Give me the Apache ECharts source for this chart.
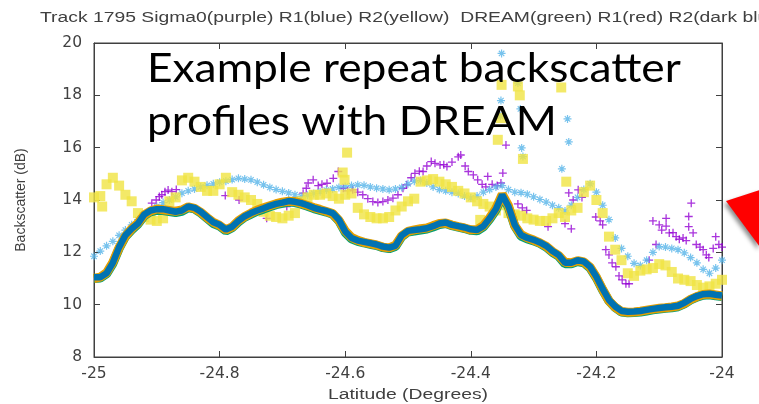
<!DOCTYPE html>
<html>
<head>
<meta charset="utf-8">
<script src="https://cdn.jsdelivr.net/npm/echarts@6/dist/echarts.min.js"></script>
<style>html,body{margin:0;padding:0;background:#fff;}#c{width:759px;height:404px;}</style>
</head>
<body>
<div id="c"></div>
<script>
const titleText = 'Track 1795 Sigma0(purple) R1(blue) R2(yellow)  DREAM(green) R1(red) R2(dark blue)';
const xAxisName = 'Latitude (Degrees)';
const yAxisName = 'Backscatter (dB)';
const overlayLines = ['Example repeat backscatter', 'profiles with DREAM'];
const xTicks = [-25, -24.8, -24.6, -24.4, -24.2, -24];
const yTicks = [8, 10, 12, 14, 16, 18, 20];

const latGrid = [-25,-24.99,-24.98,-24.97,-24.96,-24.95,-24.94,-24.93,-24.92,-24.91,
-24.9,-24.89,-24.88,-24.87,-24.86,-24.85,-24.84,-24.83,-24.82,-24.81,
-24.8,-24.79,-24.78,-24.77,-24.76,-24.75,-24.74,-24.73,-24.72,-24.71,
-24.7,-24.69,-24.68,-24.67,-24.66,-24.65,-24.64,-24.63,-24.62,-24.61,
-24.6,-24.59,-24.58,-24.57,-24.56,-24.55,-24.54,-24.53,-24.52,-24.51,
-24.5,-24.49,-24.48,-24.47,-24.46,-24.45,-24.44,-24.43,-24.42,-24.41,
-24.4,-24.39,-24.38,-24.37,-24.36,-24.35,-24.34,-24.33,-24.32,-24.31,
-24.3,-24.29,-24.28,-24.27,-24.26,-24.25,-24.24,-24.23,-24.22,-24.21,
-24.2,-24.19,-24.18,-24.17,-24.16,-24.15,-24.14,-24.13,-24.12,-24.11,
-24.1,-24.09,-24.08,-24.07,-24.06,-24.05,-24.04,-24.03,-24.02,-24.01,
-24];

const purpleLat = [-24.908,-24.901,-24.896,-24.892,-24.887,-24.882,-24.876,-24.869,-24.791,-24.769,
-24.725,-24.693,-24.667,-24.662,-24.659,-24.651,-24.643,-24.637,-24.629,-24.619,
-24.611,-24.603,-24.596,-24.588,-24.580,-24.572,-24.564,-24.556,-24.548,-24.540,
-24.532,-24.524,-24.516,-24.508,-24.502,-24.495,-24.489,-24.482,-24.476,-24.470,
-24.463,-24.457,-24.449,-24.443,-24.438,-24.430,-24.420,-24.416,-24.409,-24.404,
-24.396,-24.389,-24.382,-24.376,-24.373,-24.366,-24.358,-24.352,-24.349,-24.344,
-24.325,-24.318,-24.311,-24.277,-24.250,-24.244,-24.240,-24.237,-24.229,-24.223,
-24.201,-24.194,-24.190,-24.185,-24.180,-24.175,-24.169,-24.164,-24.159,-24.153,
-24.148,-24.116,-24.110,-24.105,-24.100,-24.096,-24.089,-24.089,-24.084,-24.078,
-24.073,-24.068,-24.062,-24.057,-24.053,-24.053,-24.049,-24.046,-24.041,-24.035,
-24.030,-24.025,-24.021,-24.014,-24.010,-24.005,-24.000];
const purpleVal = [13.88,14.0,14.13,14.2,14.32,14.38,14.32,14.4,14.17,14.0,
13.3,13.75,14.26,14.45,14.65,14.77,14.55,14.6,14.64,14.83,
15.09,14.45,14.35,14.39,14.3,14.2,14.05,13.94,13.9,13.94,
14.0,14.07,14.2,14.45,14.58,14.85,15.02,15.1,15.09,15.3,
15.47,15.4,15.34,15.35,15.28,15.45,15.65,15.72,15.3,15.09,
14.96,14.77,14.6,14.5,14.9,14.6,14.55,14.65,15.03,16.1,
13.85,13.7,13.6,12.98,13.1,14.27,12.9,14.0,14.39,14.1,
13.35,13.2,13.05,12.1,11.9,11.6,11.45,11.1,10.95,10.8,
10.8,11.7,13.2,12.3,13.05,12.85,13.3,13.0,12.74,12.75,
12.6,12.5,12.55,12.45,13.37,12.98,13.88,12.74,12.3,12.2,
12.1,11.9,11.8,12.15,12.6,12.3,12.2];

const blueR1 = [11.85,12.05,12.25,12.42,12.65,12.85,13.05,13.25,13.42,13.6,
13.75,13.9,14.0,14.12,14.26,14.35,14.42,14.5,14.56,14.62,
14.68,14.72,14.78,14.83,14.8,14.77,14.68,14.58,14.48,14.4,
14.33,14.27,14.2,14.14,14.18,14.25,14.32,14.38,14.42,14.48,
14.52,14.55,14.58,14.56,14.5,14.45,14.42,14.39,14.42,14.48,
14.62,14.72,14.75,14.65,14.5,14.4,14.35,14.3,14.25,14.15,
14.08,14.15,14.3,14.4,14.5,14.55,14.4,14.3,14.28,14.22,
14.12,14.02,13.92,13.8,13.7,13.58,13.8,14.1,14.4,14.62,
14.3,13.8,13.25,12.55,12.15,11.85,11.58,11.5,11.7,12.0,
12.22,12.2,12.15,12.1,11.98,11.8,11.6,11.35,11.2,11.4,
11.7];
const blueExtraLat = [-24.351,-24.325,-24.352,-24.321,-24.353,-24.246,-24.244,-24.319,-24.317,-24.255];
const blueExtraVal = [19.6,18.47,17.8,17.48,17.2,17.1,16.22,15.99,15.66,15.19];

const yellowR2 = [14.1,14.15,14.6,14.85,14.55,14.2,13.95,13.5,13.35,13.25,
13.2,13.3,13.95,14.1,14.75,14.85,14.7,14.5,14.35,14.35,
14.6,14.85,14.3,14.2,14.1,14.0,13.85,13.55,13.4,13.35,
13.3,13.4,13.5,13.95,14.1,14.2,14.2,14.25,14.15,14.05,
14.2,14.25,13.7,13.45,13.35,13.3,13.3,13.35,13.6,13.75,
13.95,14.05,14.7,14.75,14.8,14.7,14.6,14.5,14.35,14.25,
14.1,13.95,13.85,13.75,13.6,13.8,13.5,13.45,13.4,13.3,
13.25,13.2,13.2,13.3,13.5,13.35,13.6,13.7,14.3,14.55,
14.0,13.5,12.6,12.1,11.7,11.2,11.1,11.3,11.35,11.4,
11.55,11.5,11.25,11.0,10.95,10.9,10.75,10.65,10.7,10.8,
10.95];
const yellowExtraLat = [-24.351,-24.325,-24.322,-24.256,-24.352,-24.357,-24.317,-24.597,-24.604,-24.601,-24.987,-24.385,-24.248];
const yellowExtraVal = [18.4,18.34,18.0,18.3,17.13,16.3,15.57,15.81,15.05,14.77,13.75,13.24,14.7];

const dreamGreen = [11.0,11.02,11.18,11.57,12.15,12.6,12.86,13.08,13.4,13.55,
13.6,13.6,13.56,13.52,13.57,13.7,13.66,13.5,13.3,13.1,
13.0,12.82,12.94,13.16,13.34,13.46,13.57,13.65,13.74,13.82,
13.87,13.92,13.9,13.84,13.76,13.67,13.6,13.54,13.46,13.2,
12.76,12.52,12.42,12.36,12.31,12.26,12.18,12.14,12.22,12.6,
12.78,12.81,12.85,12.89,12.97,13.06,13.1,13.02,12.96,12.91,
12.84,12.82,12.97,13.27,13.62,14.15,13.72,13.0,12.62,12.51,
12.44,12.34,12.2,12.0,11.85,11.56,11.56,11.65,11.6,11.4,
11.02,10.55,10.14,9.89,9.72,9.69,9.7,9.72,9.76,9.8,
9.83,9.86,9.88,9.92,10.03,10.18,10.29,10.36,10.38,10.34,
10.31];
const dreamR1 = [11.0,11.05,11.22,11.62,12.18,12.62,12.9,13.12,13.43,13.58,
13.66,13.63,13.6,13.57,13.62,13.74,13.68,13.53,13.33,13.15,
13.03,12.86,12.97,13.21,13.37,13.5,13.62,13.7,13.78,13.86,
13.92,13.95,13.94,13.87,13.79,13.71,13.64,13.56,13.48,13.22,
12.82,12.57,12.46,12.38,12.33,12.28,12.2,12.17,12.27,12.63,
12.8,12.86,12.9,12.93,13.02,13.1,13.12,13.04,12.98,12.93,
12.86,12.87,13.02,13.32,13.68,14.22,13.78,13.02,12.68,12.56,
12.47,12.36,12.23,12.03,11.88,11.62,11.6,11.68,11.63,11.43,
11.05,10.58,10.15,9.9,9.74,9.71,9.72,9.75,9.79,9.83,
9.86,9.88,9.91,9.95,10.05,10.2,10.31,10.39,10.41,10.37,
10.33];
const dreamR2 = [11.05,11.05,11.2,11.6,12.2,12.65,12.9,13.1,13.45,13.6,
13.65,13.65,13.6,13.55,13.6,13.75,13.7,13.55,13.35,13.15,
13.05,12.87,12.98,13.2,13.38,13.5,13.6,13.68,13.78,13.85,
13.9,13.96,13.93,13.88,13.8,13.7,13.63,13.58,13.5,13.25,
12.8,12.55,12.45,12.4,12.35,12.3,12.22,12.18,12.25,12.65,
12.82,12.85,12.88,12.92,13.0,13.1,13.14,13.05,13.0,12.95,
12.88,12.85,13.0,13.3,13.65,14.2,13.75,13.05,12.66,12.55,
12.48,12.38,12.25,12.05,11.9,11.6,11.6,11.7,11.65,11.45,
11.07,10.6,10.18,9.93,9.76,9.73,9.74,9.76,9.8,9.84,
9.87,9.9,9.92,9.96,10.07,10.22,10.33,10.4,10.42,10.38,
10.35];

function pairs(xs, ys) { return xs.map((x, i) => [x, ys[i]]); }

const FONT = 'Liberation Sans';
const TICKFONT = 'DejaVu Sans';
const TXT = '#404040';
const STRETCH = 1.38;
const PLUS = 'path://M0,5L10,5M5,0L5,10';
const STAR = 'path://M0,5L10,5M5,0L5,10M1.6,1.6L8.4,8.4M1.6,8.4L8.4,1.6';
const GRID = {left: 94, right: 37, top: 43, bottom: 47};
const W = 759, H = 404;

const chart = echarts.init(document.getElementById('c'), null, {renderer: 'canvas'});
const axisCommon = {
  type: 'value',
  axisLine: {show: true, onZero: false, lineStyle: {color: TXT, width: 1}},
  axisTick: {show: true, inside: true, length: 6, lineStyle: {color: TXT}},
  splitLine: {show: false}
};
const plotCenterX = GRID.left + (W - GRID.left - GRID.right) / 2;
chart.setOption({
  animation: false,
  backgroundColor: '#fff',
  grid: {left: GRID.left, right: GRID.right, top: GRID.top, bottom: GRID.bottom, show: true,
    borderColor: TXT, borderWidth: 1, backgroundColor: 'transparent'},
  xAxis: [
    Object.assign({}, axisCommon, {
      min: xTicks[0], max: xTicks[xTicks.length - 1], interval: 0.2, position: 'bottom',
      axisLabel: {fontFamily: TICKFONT, fontSize: 15.5, color: TXT, margin: 9,
        formatter: v => String(Math.round(v * 10) / 10)}
    }),
    Object.assign({}, axisCommon, {
      min: xTicks[0], max: xTicks[xTicks.length - 1], interval: 0.2, position: 'top',
      axisLabel: {show: false}
    })
  ],
  yAxis: [
    Object.assign({}, axisCommon, {
      min: yTicks[0], max: yTicks[yTicks.length - 1], interval: 2, position: 'left',
      axisLabel: {fontFamily: TICKFONT, fontSize: 15.5, color: TXT, margin: 12},
      name: yAxisName, nameLocation: 'middle', nameGap: 66, nameRotate: 90,
      nameTextStyle: {fontFamily: FONT, fontSize: 14, color: TXT}
    }),
    Object.assign({}, axisCommon, {
      min: yTicks[0], max: yTicks[yTicks.length - 1], interval: 2, position: 'right',
      axisLabel: {show: false}
    })
  ],
  graphic: [
    {type: 'text', x: 40, y: 18, scaleX: STRETCH, z: 100,
      style: {text: titleText, fontFamily: FONT, fontSize: 14, fill: TXT, align: 'left', verticalAlign: 'middle'}},
    {type: 'text', x: plotCenterX, y: 395, scaleX: STRETCH, z: 100,
      style: {text: xAxisName, fontFamily: FONT, fontSize: 14, fill: TXT, align: 'center', verticalAlign: 'middle'}},
    {type: 'text', x: 147, y: 48, scaleX: 1.08, z: 100,
      style: {text: overlayLines[0], fontFamily: 'Lato', fontSize: 41, fill: '#000', verticalAlign: 'top'}},
    {type: 'text', x: 147, y: 101, scaleX: 1.08, z: 100,
      style: {text: overlayLines[1], fontFamily: 'Lato', fontSize: 41, fill: '#000', verticalAlign: 'top'}},
    {type: 'polygon', z: 100,
      shape: {points: [[726, 201], [760, 190], [760, 247]]},
      style: {fill: '#ff0000', shadowBlur: 4, shadowColor: 'rgba(0,0,0,0.45)', shadowOffsetX: -2, shadowOffsetY: 3}}
  ],
  series: [
    {name: 'Sigma0', type: 'scatter', symbol: PLUS, symbolSize: 8,
      itemStyle: {color: '#9400D3', borderColor: '#9400D3', borderWidth: 1.3},
      data: pairs(purpleLat, purpleVal)},
    {name: 'R1', type: 'scatter', symbol: STAR, symbolSize: 8,
      itemStyle: {color: '#56B4E9', borderColor: '#56B4E9', borderWidth: 1.2},
      data: pairs(latGrid, blueR1).concat(pairs(blueExtraLat, blueExtraVal))},
    {name: 'R2', type: 'scatter', symbol: 'rect', symbolSize: 10,
      itemStyle: {color: '#F0E442'},
      data: pairs(latGrid, yellowR2).concat(pairs(yellowExtraLat, yellowExtraVal))},
    {name: 'DREAM', type: 'line', showSymbol: false, lineStyle: {color: '#009E73', width: 9},
      data: pairs(latGrid, dreamGreen)},
    {name: 'DREAM R1', type: 'line', showSymbol: false, lineStyle: {color: '#E69F00', width: 9},
      data: pairs(latGrid, dreamR1)},
    {name: 'DREAM R2', type: 'line', showSymbol: false, lineStyle: {color: '#0072B2', width: 6.5},
      data: pairs(latGrid, dreamR2)}
  ]
});
</script>
</body>
</html>
